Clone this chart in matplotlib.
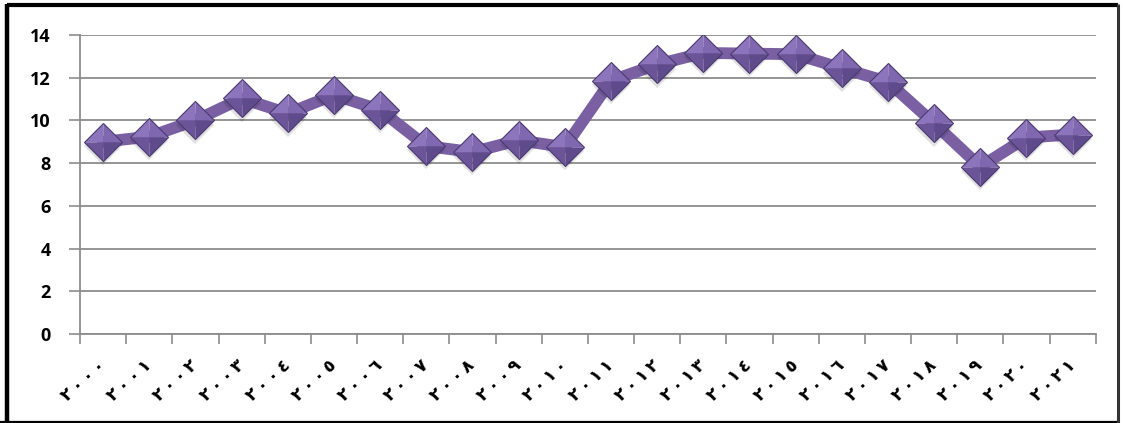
import matplotlib
matplotlib.use("Agg")
import matplotlib.pyplot as plt
from matplotlib.lines import Line2D

years = ["٢٠٠٠", "٢٠٠١", "٢٠٠٢", "٢٠٠٣", "٢٠٠٤", "٢٠٠٥", "٢٠٠٦", "٢٠٠٧",
         "٢٠٠٨", "٢٠٠٩", "٢٠١٠", "٢٠١١", "٢٠١٢", "٢٠١٣", "٢٠١٤", "٢٠١٥",
         "٢٠١٦", "٢٠١٧", "٢٠١٨", "٢٠١٩", "٢٠٢٠", "٢٠٢١"]
values = [9.0, 9.24, 10.0, 11.03, 10.33, 11.19, 10.49, 8.8,
          8.52, 9.07, 8.75, 11.86, 12.62, 13.16, 13.13, 13.1,
          12.44, 11.81, 9.86, 7.83, 9.2, 9.34]
yticks = [0, 2, 4, 6, 8, 10, 12, 14]

W, H = 1123, 423
fig = plt.figure(figsize=(W / 100, H / 100), dpi=100)
ax = fig.add_axes([80 / W, (H - 334) / H, (1095.7 - 80) / W, (334 - 35) / H])

n = len(values)
x = [i + 0.5 for i in range(n)]

grid_col = "#8c8c8c"
ax.set_xlim(0, n)
ax.set_ylim(0, 14)
ax.set_yticks(yticks)
ax.set_yticklabels([str(t) for t in yticks], fontsize=13, fontweight="bold",
                   family="Open Sans")
ax.yaxis.grid(True, color=grid_col, linewidth=1.3)
ax.set_axisbelow(True)
ax.tick_params(axis="y", length=8, width=1.2, color=grid_col, pad=13)

spaced = ["\u2009".join(list(s)) for s in years]
ax.set_xticks(range(n + 1))
ax.set_xticklabels([])
ax.set_xticks(x, minor=True)
ax.set_xticklabels(spaced, minor=True, rotation=42, ha="right", va="center",
                   rotation_mode="anchor", fontsize=12.5, fontweight="bold",
                   family=["DejaVu Sans"])
ax.tick_params(axis="x", which="major", length=7, width=1.2, color=grid_col)
ax.tick_params(axis="x", which="minor", length=0, pad=21)

for s in ["top", "right"]:
    ax.spines[s].set_visible(False)
for s in ["left", "bottom"]:
    ax.spines[s].set_color(grid_col)
    ax.spines[s].set_linewidth(1.3)

line_col = "#7a5fa3"
ax.plot(x, values, color=line_col, linewidth=8.5, solid_joinstyle="round",
        zorder=3)

ms = 27.5
# soft shadow
ax.plot(x, [v - 0.2 for v in values], linestyle="none", marker="D",
        markersize=ms / 1.414, markerfacecolor="#000000", markeredgewidth=0,
        alpha=0.12, zorder=4)
facets = [
    ([(0, 0), (-1, 0), (0, 1)], "#8c75bc"),   # top-left
    ([(0, 0), (0, 1), (1, 0)], "#8068b0"),    # top-right
    ([(0, 0), (-1, 0), (0, -1)], "#6b5598"),  # bottom-left
    ([(0, 0), (0, -1), (1, 0)], "#5f4a8c"),   # bottom-right
]
for verts, col in facets:
    ax.plot(x, values, linestyle="none", marker=verts, markersize=ms,
            markerfacecolor=col, markeredgewidth=0, zorder=5)
ax.plot(x, values, linestyle="none", marker="D", markersize=ms / 1.414,
        markerfacecolor="none", markeredgecolor="#4a3a70",
        markeredgewidth=0.8, zorder=6)

# outer frame
def fline(x0, y0, x1, y1, lw, col):
    fig.add_artist(Line2D([x0 / W, x1 / W], [1 - y0 / H, 1 - y1 / H],
                          color=col, linewidth=lw, solid_capstyle="butt"))

fline(7, 5.5, 1118, 5.5, 3, "black")
fline(7, 4, 7, 423, 3.2, "black")
fline(0, 421.7, 1120, 421.7, 1.6, "black")
fline(1118, 4, 1118, 423, 2.2, "#333333")

fig.savefig("out.png", dpi=100)
